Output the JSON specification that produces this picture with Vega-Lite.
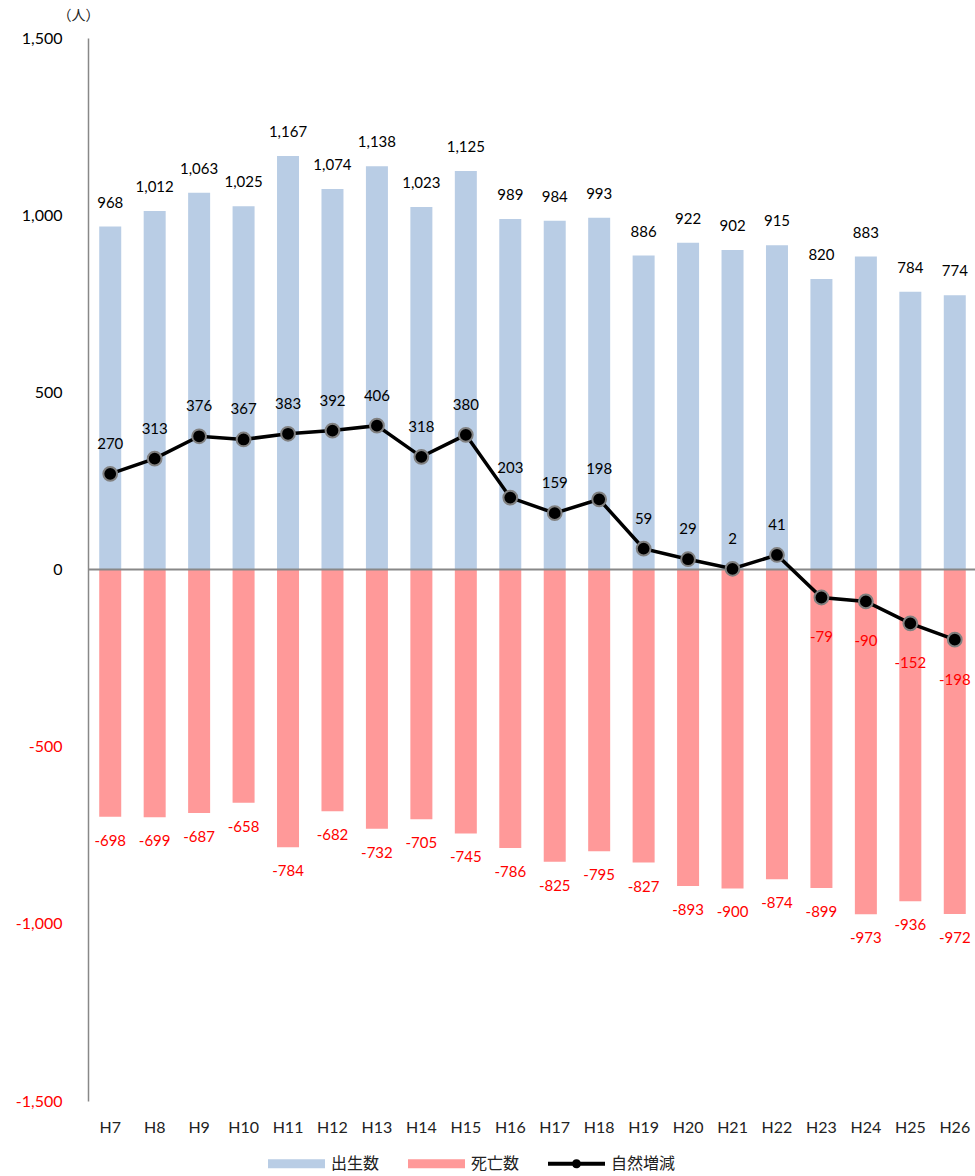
{
  "$schema": "https://vega.github.io/schema/vega-lite/v6.json",
  "width": 889,
  "height": 1063,
  "autosize": {"type": "none"},
  "padding": {"left": 88, "top": 38, "right": 0, "bottom": 75},
  "background": "white",
  "config": {"view": {"stroke": null}, "font": "Lato"},
  "data": {"values": [
    {"year": "H7", "birth": 968, "death": -698, "change": 270},
    {"year": "H8", "birth": 1012, "death": -699, "change": 313},
    {"year": "H9", "birth": 1063, "death": -687, "change": 376},
    {"year": "H10", "birth": 1025, "death": -658, "change": 367},
    {"year": "H11", "birth": 1167, "death": -784, "change": 383},
    {"year": "H12", "birth": 1074, "death": -682, "change": 392},
    {"year": "H13", "birth": 1138, "death": -732, "change": 406},
    {"year": "H14", "birth": 1023, "death": -705, "change": 318},
    {"year": "H15", "birth": 1125, "death": -745, "change": 380},
    {"year": "H16", "birth": 989, "death": -786, "change": 203},
    {"year": "H17", "birth": 984, "death": -825, "change": 159},
    {"year": "H18", "birth": 993, "death": -795, "change": 198},
    {"year": "H19", "birth": 886, "death": -827, "change": 59},
    {"year": "H20", "birth": 922, "death": -893, "change": 29},
    {"year": "H21", "birth": 902, "death": -900, "change": 2},
    {"year": "H22", "birth": 915, "death": -874, "change": 41},
    {"year": "H23", "birth": 820, "death": -899, "change": -79},
    {"year": "H24", "birth": 883, "death": -973, "change": -90},
    {"year": "H25", "birth": 784, "death": -936, "change": -152},
    {"year": "H26", "birth": 774, "death": -972, "change": -198}
  ]},
  "layer": [
    {
      "transform": [{"fold": ["birth", "death"], "as": ["key", "value"]}, {"lookup": "key", "from": {"data": {"values": [{"key": "birth", "series": "出生数"}, {"key": "death", "series": "死亡数"}]}, "key": "key", "fields": ["series"]}}],
      "mark": {"type": "bar", "size": 22},
      "encoding": {
        "x": {"field": "year", "type": "ordinal", "sort": null, "title": null,
              "scale": {"paddingInner": 0, "paddingOuter": 0},
              "axis": {"domain": false, "ticks": false, "labelAngle": 0, "labelFontSize": 16, "labelPadding": 18, "labelColor": "#222222", "labelFont": "Lato"}},
        "y": {"field": "value", "type": "quantitative", "stack": null, "title": "（人）",
              "scale": {"domain": [-1500, 1500], "nice": false, "zero": false},
              "axis": {"title": "（人）", "titleAngle": 0, "titleX": -10, "titleY": -23, "titleAlign": "center", "titleBaseline": "middle", "titleFontSize": 14, "titleFontWeight": "normal", "titleFont": "Noto Sans CJK JP", "titleColor": "#222222",
                       "values": [-1500, -1000, -500, 0, 500, 1000, 1500],
                       "labelExpr": "datum.value < 0 ? '-' + format(-datum.value, ',') : format(datum.value, ',')",
                       "labelColor": {"condition": {"test": "datum.value < 0", "value": "#FF0000"}, "value": "#000000"},
                       "labelFontSize": 16, "labelPadding": 26, "labelFont": "Lato", "ticks": false, "grid": false, "domainColor": "#888888", "domainWidth": 1.5}},
        "color": {"field": "series", "type": "nominal",
                  "scale": {"domain": ["出生数", "死亡数", "自然増減"], "range": ["#B9CDE5", "#FF9999", "#000000"]},
                  "legend": {"orient": "none", "legendX": 180, "legendY": 1097, "direction": "horizontal", "title": null, "padding": 0,
                             "symbolSize": 3249, "labelOffset": 6, "columnPadding": 28, "labelFontSize": 16, "labelFont": "Noto Sans CJK JP", "labelColor": "#222222",
                             "encode": {"symbols": {"update": {"shape": {"signal": "datum.value === '自然増減' ? 'M-1,-0.07H1V0.07H-1Z M0.16,0A0.16,0.16 0 1,1 -0.16,0A0.16,0.16 0 1,1 0.16,0Z' : 'M-1,-0.16H1V0.16H-1Z'"}, "strokeWidth": {"value": 0}, "opacity": {"value": 1}}}}}}
      }
    },
    {
      "data": {"values": [{"z": 0}]},
      "mark": {"type": "rule", "color": "#888888", "strokeWidth": 2},
      "encoding": {"y": {"field": "z", "type": "quantitative", "title": "（人）"}}
    },
    {
      "mark": {"type": "text", "baseline": "middle", "dy": -24, "fontSize": 15, "color": "#000000", "font": "Lato"},
      "encoding": {
        "x": {"field": "year", "type": "ordinal", "sort": null, "title": null},
        "y": {"field": "birth", "type": "quantitative", "title": "（人）"},
        "text": {"field": "birth", "type": "quantitative", "format": ","}
      }
    },
    {
      "mark": {"type": "text", "baseline": "middle", "dy": 24, "fontSize": 15, "color": "#FF0000", "font": "Lato"},
      "encoding": {
        "x": {"field": "year", "type": "ordinal", "sort": null, "title": null},
        "y": {"field": "death", "type": "quantitative", "title": "（人）"},
        "text": {"field": "death", "type": "nominal"}
      }
    },
    {
      "mark": {"type": "line", "color": "#000000", "strokeWidth": 3.5},
      "encoding": {
        "x": {"field": "year", "type": "ordinal", "sort": null, "title": null},
        "y": {"field": "change", "type": "quantitative", "title": "（人）"}
      }
    },
    {
      "mark": {"type": "point", "filled": true, "fill": "#000000", "stroke": "#808080", "strokeWidth": 2, "size": 190, "opacity": 1},
      "encoding": {
        "x": {"field": "year", "type": "ordinal", "sort": null, "title": null},
        "y": {"field": "change", "type": "quantitative", "title": "（人）"}
      }
    },
    {
      "transform": [{"filter": "datum.change >= 0"}],
      "mark": {"type": "text", "baseline": "middle", "dy": -30, "fontSize": 15, "color": "#000000", "font": "Lato"},
      "encoding": {
        "x": {"field": "year", "type": "ordinal", "sort": null, "title": null},
        "y": {"field": "change", "type": "quantitative", "title": "（人）"},
        "text": {"field": "change", "type": "nominal"}
      }
    },
    {
      "transform": [{"filter": "datum.change < 0"}],
      "mark": {"type": "text", "baseline": "middle", "dy": 40, "fontSize": 15, "color": "#FF0000", "font": "Lato"},
      "encoding": {
        "x": {"field": "year", "type": "ordinal", "sort": null, "title": null},
        "y": {"field": "change", "type": "quantitative", "title": "（人）"},
        "text": {"field": "change", "type": "nominal"}
      }
    }
  ]
}
